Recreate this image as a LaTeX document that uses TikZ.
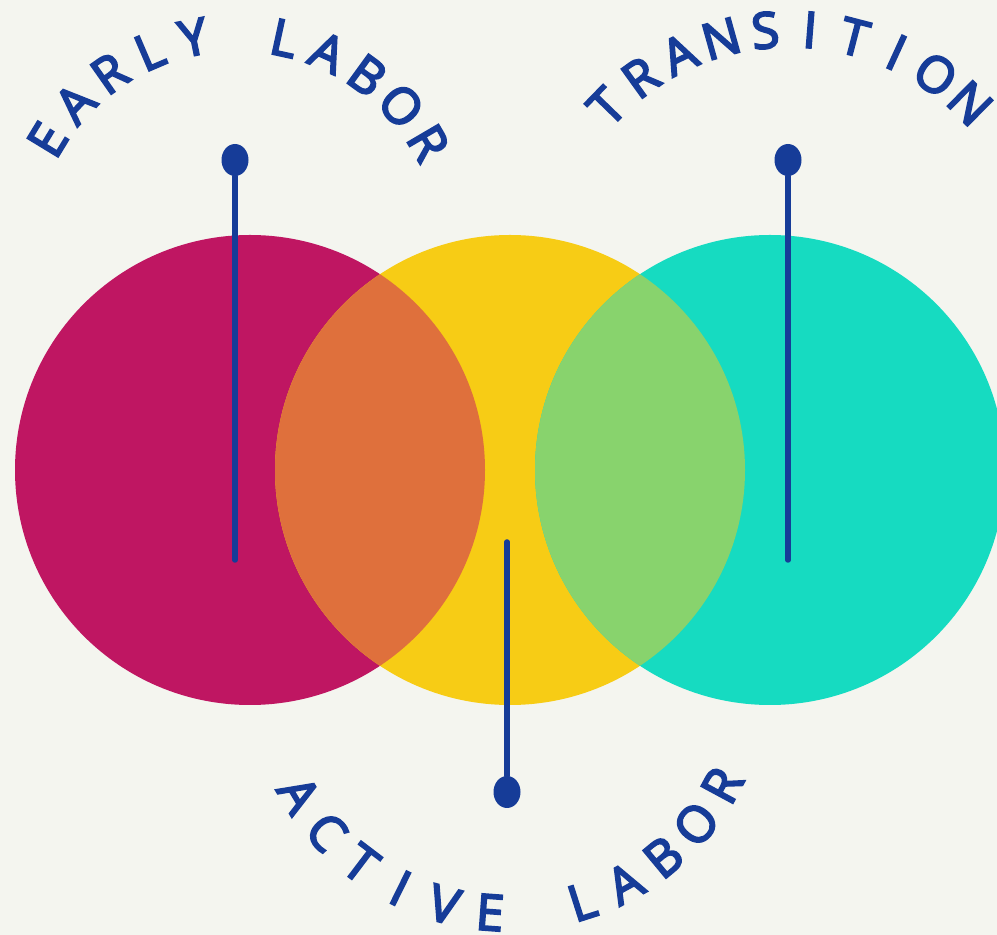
\documentclass[tikz,border=0pt]{standalone}
\usepackage{fontspec}
\setmainfont{Open Sans}
\newfontfamily\lettering[FakeBold=4]{Open Sans}
\usetikzlibrary{shapes.geometric}
\definecolor{lbpaper}{RGB}{244,245,239}
\definecolor{lbblue}{RGB}{22,60,152}
\definecolor{lbmagenta}{RGB}{191,22,98}
\definecolor{lbyellow}{RGB}{247,204,21}
\definecolor{lbteal}{RGB}{22,219,193}
\definecolor{lborange}{RGB}{223,112,60}
\definecolor{lbgreen}{RGB}{136,211,109}

\begin{document}
\begin{tikzpicture}[
  x=1pt, y=1pt,
  knob/.style={
    ellipse, fill=lbblue,
    minimum width=27pt, minimum height=32pt,
    inner sep=0pt
  },
  stem/.style={line width=5.5pt, line cap=round, draw=lbblue},
  glyph/.style={
    text=lbblue, anchor=base, inner sep=0pt,
    font=\lettering\fontsize{50}{50}\selectfont
  }
]
\clip (0,0) rectangle (997,935);
\fill[lbpaper] (0,0) rectangle (997,935);

\fill[lbmagenta] (250,465) circle (235);
\fill[lbyellow]  (510,465) circle (235);
\fill[lbteal]    (770,465) circle (235);
\begin{scope}
  \clip (250,465) circle (235);
  \fill[lborange] (510,465) circle (235);
\end{scope}
\begin{scope}
  \clip (770,465) circle (235);
  \fill[lbgreen] (510,465) circle (235);
\end{scope}

\node[knob] (earlydot)  at (235,775) {};
\node[knob] (transdot)  at (788,775) {};
\node[knob] (activedot) at (507,143) {};
\coordinate (earlyend)  at (235,375);
\coordinate (transend)  at (788,375);
\coordinate (activeend) at (507,393);

\draw[stem] (earlyend) -- (earlydot);
\draw[stem] (transend) -- (transdot);
\draw[stem] (activeend) -- (activedot);

\begin{scope}[shift={(237,680)}]
  \foreach \ch [count=\i from 0] in {E,A,R,L,Y,,L,A,B,O,R} {
    \pgfmathsetmacro\ang{148.7-11.83*\i}
    \node[glyph, rotate=\ang-90] (early-\i) at (\ang:204) {\ch};
  }
\end{scope}

\begin{scope}[shift={(790,650)}]
  \foreach \ch [count=\i from 0] in {T,R,A,N,S,I,T,I,O,N} {
    \pgfmathsetmacro\ang{135.8-10.06*\i}
    \node[glyph, rotate=\ang-90] (trans-\i) at (\ang:238) {\ch};
  }
\end{scope}

\begin{scope}[shift={(508,265)}]
  \foreach \ch [count=\i from 0] in {A,C,T,I,V,E,,L,A,B,O,R} {
    \pgfmathsetmacro\ang{210.8+10.99*\i}
    \node[glyph, rotate=\ang+90] (active-\i) at (\ang:261) {\ch};
  }
\end{scope}
\end{tikzpicture}
\end{document}
